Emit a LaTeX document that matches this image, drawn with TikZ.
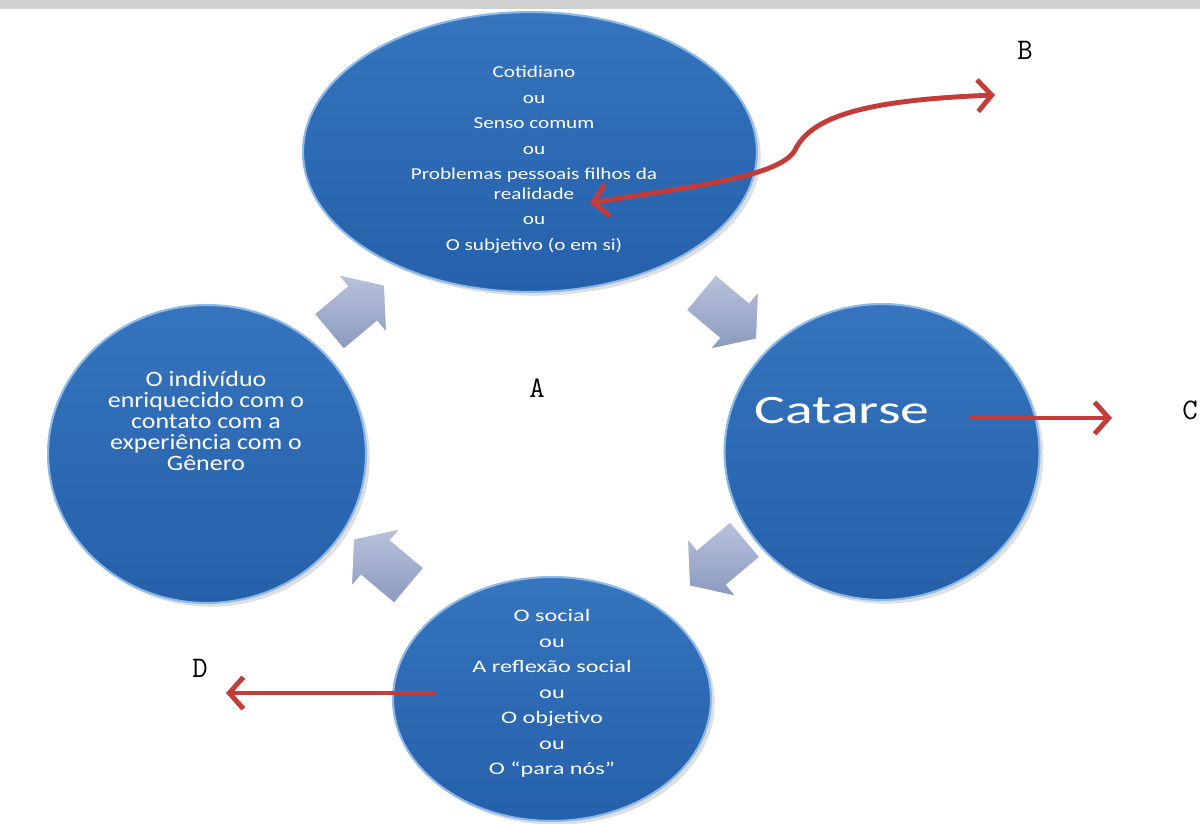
\documentclass[tikz,border=0pt]{standalone}
\usepackage{fontspec}
\setsansfont{Carlito}
\usepackage{graphicx}
\usetikzlibrary{shadows,positioning,shapes.geometric,shapes.arrows,arrows.meta}
\definecolor{ovaltop}{RGB}{54,116,190}
\definecolor{ovalbot}{RGB}{38,96,170}
\definecolor{ovalrim}{RGB}{140,185,232}
\definecolor{cyctop}{RGB}{184,194,220}
\definecolor{cycbot}{RGB}{138,154,190}
\definecolor{linkred}{RGB}{196,60,58}
\definecolor{stripgray}{RGB}{208,208,208}
\tikzset{oval/.style={ellipse,top color=ovaltop,bottom color=ovalbot,draw=ovalrim,
                      line width=1.2pt,drop shadow={opacity=0.25}},
        ovaltext/.style={text=white,font=\sffamily,inner sep=0pt},
        cycarrow/.style={single arrow,single arrow head extend=0.3cm,single arrow tip angle=105,
                         inner xsep=0pt,inner ysep=0.45cm,minimum height=1.45cm,
                         top color=cyctop,bottom color=cycbot,draw=white,line width=0.6pt},
        redlink/.style={draw=linkred,line width=2.8pt,
                        -{Straight Barb[length=8pt,width=18pt]}},
        letter/.style={font=\ttfamily\fontsize{17}{17}\selectfont,inner sep=0pt},
        }
\newcommand{\ovlines}[2]{\scalebox{#1}[1]{\begin{tabular}{@{}c@{}}#2\end{tabular}}}

\begin{document}
\begin{tikzpicture}[x=0.02cm,y=-0.02cm]
    \useasboundingbox (0,0) rectangle (1200,823);
    \fill[stripgray] (0,0) rectangle (1200,9);

    % the four stages
    \node[oval,minimum width=9.08cm,minimum height=5.6cm] (cotidiano) at (530,152) {};
    \node[oval,minimum width=6.3cm,minimum height=5.92cm] (catarse) at (882,452) {};
    \node[oval,minimum width=6.36cm,minimum height=4.88cm] (social) at (552,699) {};
    \node[oval,minimum width=6.36cm,minimum height=5.96cm] (individuo) at (207,454) {};

    \node[ovaltext] (cotidianotxt) at (534,160) {\fontsize{9.5}{11.3}\selectfont\ovlines{1.27}{%
        Cotidiano\\[3.2pt] ou\\[3.2pt] Senso comum\\[3.2pt] ou\\[3.2pt]
        Problemas pessoais filhos da\\ realidade\\[3.2pt] ou\\[3.2pt] O subjetivo (o em si)}};
    \node[ovaltext] (catarsetxt) at (842,415) {\fontsize{23}{24}\selectfont\ovlines{1.43}{Catarse}};
    \node[ovaltext] (socialtxt) at (552,693) {\fontsize{10}{14.5}\selectfont\ovlines{1.38}{%
        O social\\ ou\\ A reflex\~ao social\\ ou\\ O objetivo\\ ou\\ O ``para n\'os''}};
    \node[ovaltext] (individuotxt) at (206,424) {\fontsize{12.5}{11.9}\selectfont\ovlines{1.18}{%
        O indiv\'iduo\\ enriquecido com o\\ contato com a\\ experi\^encia com o\\ G\^enero}};

    % cycle arrows
    \node[cycarrow,rotate=40] (toCotidiano) at (350,314) {};
    \node[cycarrow,rotate=-40] (toCatarse) at (722,310) {};
    \node[cycarrow,rotate=-140] (toSocial) at (724,557) {};
    \node[cycarrow,rotate=140] (toIndividuo) at (388,568) {};

    % letters
    \node[letter] (labA) at (537,388) {A};
    \node[letter] (labB) at (1025,50) {B};
    \node[letter] (labC) at (1190,410) {C};
    \node[letter] (labD) at (200,668) {D};

    % red links
    \coordinate (bStart) at (590,203);
    \coordinate (bEnd) at (995,95);
    \coordinate (cStart) at (970,418);
    \coordinate (cEnd) at (1112,418);
    \coordinate (dStart) at (435,693);
    \coordinate (dEnd) at (226,693);
    \draw[redlink,{Straight Barb[length=8pt,width=18pt]}-{Straight Barb[length=8pt,width=18pt]}]
        (bStart) .. controls (680,188) and (780,178) .. (795,150)
                 .. controls (812,115) and (870,100) .. (bEnd);
    \draw[redlink] (cStart) -- (cEnd);
    \draw[redlink] (dStart) -- (dEnd);
\end{tikzpicture}
\end{document}
